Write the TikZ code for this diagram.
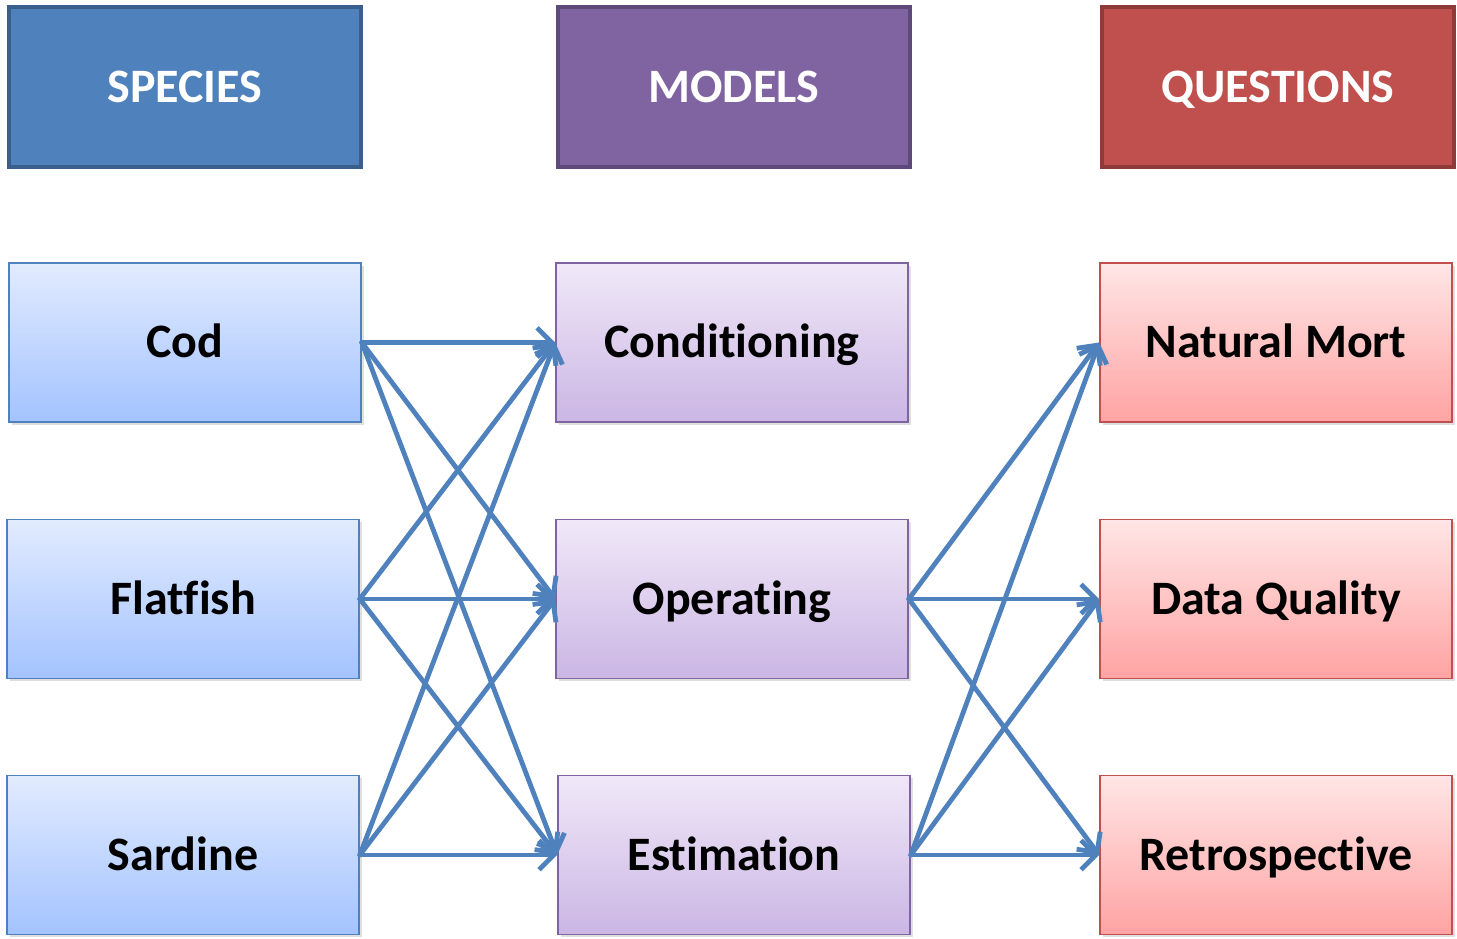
\documentclass[tikz,border=0pt]{standalone}
\usepackage{fontspec}
\setmainfont[Ligatures={NoCommon}]{Carlito}
\usetikzlibrary{arrows.meta,shadows}
\definecolor{hblue}{HTML}{4F81BD}
\definecolor{hblueD}{HTML}{3A5F8C}
\definecolor{hpurp}{HTML}{8064A2}
\definecolor{hpurpD}{HTML}{5E4A7A}
\definecolor{hred}{HTML}{C0504D}
\definecolor{hredD}{HTML}{8E3A38}
\definecolor{bTop}{HTML}{E2EBFF}
\definecolor{bBot}{HTML}{A3C3FF}
\definecolor{pTop}{HTML}{F0E8F8}
\definecolor{pBot}{HTML}{CBB6E4}
\definecolor{rTop}{HTML}{FFE6E6}
\definecolor{rBot}{HTML}{FFA3A3}
\tikzset{
  boxfont/.style={font=\fontsize{36}{40}\selectfont\bfseries,
    text height=22.8pt, text depth=0pt},
  header/.style={draw=#1, line width=3pt, rectangle, inner sep=0pt,
    minimum width=352*0.75pt, minimum height=160*0.75pt,
    text=white, boxfont},
  itembox/.style={rectangle, inner sep=0pt, line width=1.2pt,
    minimum width=352*0.75pt, minimum height=159*0.75pt, boxfont,
    drop shadow={opacity=0.25, shadow xshift=2pt, shadow yshift=-2pt}},
  spbox/.style={itembox, draw=hblue, top color=bTop, bottom color=bBot},
  mdbox/.style={itembox, draw=hpurp, top color=pTop, bottom color=pBot},
  qubox/.style={itembox, draw=hred, top color=rTop, bottom color=rBot},
  link/.style={draw=hblue, line width=3.6pt, line cap=round,
    -{Straight Barb[length=11pt, width=22pt, line width=3.6pt]}},
}
\begin{document}
\begin{tikzpicture}[x=0.75pt, y=-0.75pt]
\useasboundingbox (0,0) rectangle (1457,939);
% headers
\node[header=hblueD, fill=hblue] (hs) at (185,87) {SPECIES};
\node[header=hpurpD, fill=hpurp] (hm) at (734,87) {MODELS};
\node[header=hredD, fill=hred] (hq) at (1278,87) {QUESTIONS};
% species
\node[spbox] (cod) at (185,342.5) {Cod};
\node[spbox] (flat) at (183,599) {Flatfish};
\node[spbox] (sard) at (183,855) {Sardine};
% models
\node[mdbox] (cond) at (732,342.5) {Conditioning};
\node[mdbox] (oper) at (732,599) {Operating};
\node[mdbox] (esti) at (734,855) {Estimation};
% questions
\node[qubox] (nat) at (1276,342.5) {Natural Mort};
\node[qubox] (dq) at (1276,599) {Data Quality};
\node[qubox] (retro) at (1276,855) {Retrospective};
% species -> models
\foreach \s in {cod,flat,sard}{
  \foreach \m in {cond,oper,esti}{
    \draw[link] (\s.east) -- (\m.west);
  }
}
% models -> questions
\foreach \m in {oper,esti}{
  \foreach \q in {nat,dq,retro}{
    \draw[link] (\m.east) -- (\q.west);
  }
}
\end{tikzpicture}
\end{document}
